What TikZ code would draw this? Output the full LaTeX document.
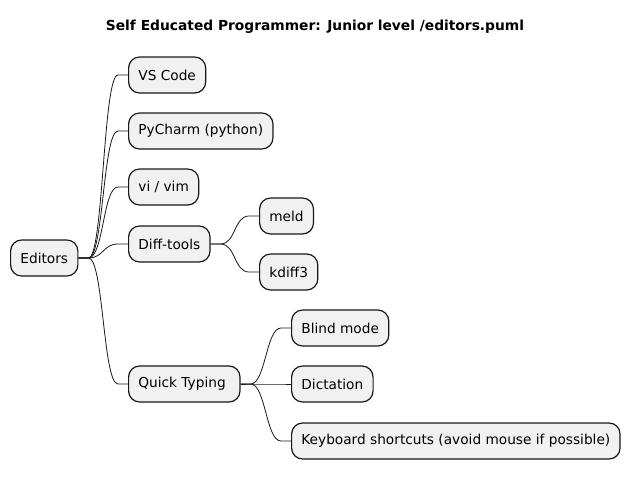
\documentclass[tikz,border=0pt]{standalone}
\usepackage{fontspec}
\setmainfont{DejaVu Sans}
\definecolor{boxfill}{HTML}{F1F1F1}
\definecolor{boxline}{HTML}{181818}
\tikzset{
  idea/.style={draw=boxline, fill=boxfill, line width=1.2pt, rounded corners=11pt,
    anchor=west, minimum height=36pt, inner xsep=9.8pt, inner ysep=0pt,
    font=\fontsize{13.7}{16}\selectfont},
  branch/.style={draw=boxline, line width=0.8pt},
}
\newcommand{\linkto}[2]{%
  \draw[branch] (#1.east) -- ++(10,0) .. controls +(15,0) and +(-15,0) .. ([xshift=-10pt]#2.west) -- (#2.west);}
\begin{document}
\begin{tikzpicture}[x=1pt,y=-1pt]
    \useasboundingbox (0,0) rectangle (632,480);
    %% title
    \node[font=\bfseries\fontsize{13.8}{16}\selectfont] (title) at (315,27) {Self Educated Programmer: Junior level /editors.puml};
    %% root and first level
    \node[idea] (editors) at (10,258) {Editors};
    \node[idea] (vscode) at (128,75) {VS Code};
    \node[idea] (pycharm) at (128,131) {PyCharm (python)};
    \node[idea] (vim) at (128,187) {vi / vim};
    \node[idea] (diff) at (128,244) {Diff-tools};
    \node[idea] (typing) at (128,384) {Quick Typing\kern4.5pt};
    %% second level
    \node[idea] (meld) at (259,216) {meld};
    \node[idea] (kdiff) at (259,272) {kdiff3};
    \node[idea] (blind) at (291,328) {Blind mode};
    \node[idea] (dictation) at (291,384) {Dictation};
    \node[idea] (shortcuts) at (291,441) {Keyboard shortcuts (avoid mouse if possible)};
    %% branches
    \foreach \kid in {vscode,pycharm,vim,diff,typing} {\linkto{editors}{\kid}}
    \linkto{diff}{meld}
    \linkto{diff}{kdiff}
    \foreach \kid in {blind,dictation,shortcuts} {\linkto{typing}{\kid}}
\end{tikzpicture}
\end{document}
